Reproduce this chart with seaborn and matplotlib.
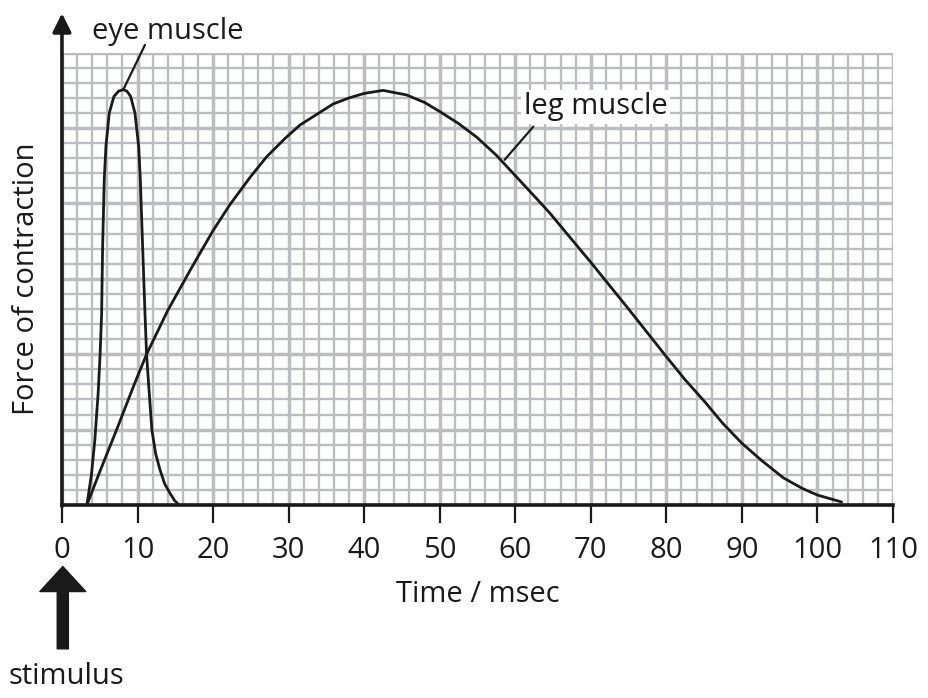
import numpy as np
import pandas as pd
import matplotlib
matplotlib.use("Agg")
import matplotlib.pyplot as plt
from matplotlib.ticker import MultipleLocator
import seaborn as sns

# values (time in msec, force in grid units)
eye_time = [3.3, 3.9, 4.35, 4.8, 5.05, 5.25, 5.38, 5.6, 5.82, 6.26, 6.88, 7.5, 8.1,
            8.6, 9.09, 9.66, 10.15, 10.37, 10.68, 10.99, 11.2, 11.43, 11.9, 12.4,
            13.0, 13.6, 14.3, 14.9, 15.4]
eye_force = [0.0, 2.0, 4.3, 7.5, 10.0, 12.7, 17.1, 21.6, 23.8, 26.0, 27.1, 27.45, 27.55,
             27.45, 27.1, 26.0, 23.8, 21.6, 17.1, 12.7, 10.0, 8.3, 5.0, 3.4,
             2.3, 1.4, 0.78, 0.3, 0.05]

leg_time = [3.3, 5, 7.24, 9.57, 11.2, 14, 17, 20, 22.2, 25, 27.1, 29.5, 31.5, 33.7,
            35.9, 38, 40, 42.5, 45.6, 48, 50, 52.5, 54.9, 57.5, 60, 62.5, 64.6, 67.5,
            70, 75, 80, 82.5, 85, 87.5, 90, 92.5, 95.5, 98, 100, 103.2]
leg_force = [0.0, 2.2, 5.0, 8.0, 10.0, 12.9, 15.6, 18.2, 19.9, 21.8, 23.1, 24.3, 25.2, 25.9,
             26.6, 27.0, 27.3, 27.5, 27.2, 26.7, 26.1, 25.3, 24.4, 23.2, 21.85, 20.5, 19.35, 17.6,
             16.1, 13.0, 9.84, 8.3, 6.9, 5.4, 4.1, 3.0, 1.8, 1.1, 0.66, 0.2]

x_ticks = [0, 10, 20, 30, 40, 50, 60, 70, 80, 90, 100, 110]

eye = pd.DataFrame({"time": eye_time, "force": eye_force})
leg = pd.DataFrame({"time": leg_time, "force": leg_force})

sns.set_style("white")
plt.rcParams["font.family"] = ["Open Sans", "DejaVu Sans"]
ink = "#1a1a1a"
fs = 21

fig = plt.figure(figsize=(9.29, 6.98), dpi=100)
ax = fig.add_axes([0.0667, 0.2765, 0.8945, 0.648])

grid_col = "#bcbdc0"
ax.set_xlim(0, 110)
ax.set_ylim(0, 30)
ax.xaxis.set_major_locator(MultipleLocator(10))
ax.xaxis.set_minor_locator(MultipleLocator(2))
ax.yaxis.set_major_locator(MultipleLocator(5))
ax.yaxis.set_minor_locator(MultipleLocator(1))
ax.grid(which="major", color=grid_col, lw=2.5, zorder=0)
ax.grid(which="minor", color=grid_col, lw=1.7, zorder=0)
ax.set_axisbelow(True)

sns.lineplot(data=eye, x="time", y="force", ax=ax, color=ink, lw=2.0, zorder=3)
sns.lineplot(data=leg, x="time", y="force", ax=ax, color=ink, lw=2.0, zorder=3)

for s in ["top", "right", "left"]:
    ax.spines[s].set_visible(False)
ax.spines["bottom"].set_color(ink)
ax.spines["bottom"].set_linewidth(2.6)
ax.spines["bottom"].set_zorder(4)

ax.set_xticks(x_ticks)
ax.set_xticklabels([str(t) for t in x_ticks], fontsize=fs, color=ink)
ax.tick_params(axis="x", which="major", direction="out", length=13, width=1.6,
               color=ink, pad=9, bottom=True)
ax.tick_params(axis="x", which="minor", length=0)
ax.tick_params(axis="y", which="both", left=False, labelleft=False)
ax.set_xlabel("Time / msec", fontsize=fs, color=ink, labelpad=11)
ax.set_ylabel("")

# y axis with arrow head
ax.annotate("", xy=(0, 1.087), xytext=(0, -0.003), xycoords="axes fraction",
            arrowprops=dict(arrowstyle="-|>", lw=2.6, color=ink,
                            mutation_scale=28, shrinkA=0, shrinkB=0),
            annotation_clip=False, zorder=5)

fig.text(26.7 / 929, 0.6003, "Force of contraction", rotation=90, ha="center",
         va="center", fontsize=fs, color=ink)

# curve labels
ax.plot([8.11, 10.99], [27.54, 30.52], color=ink, lw=1.6, clip_on=False, zorder=3)
ax.text(13.96, 31.4, "eye muscle", ha="center", va="center", fontsize=fs,
        color=ink, clip_on=False)
ax.plot([58.6, 62.4], [22.9, 25.1], color=ink, lw=1.6, zorder=3)
ax.text(70.65, 26.4, "leg muscle", ha="center", va="center", fontsize=fs,
        color=ink, zorder=4,
        bbox=dict(facecolor="white", edgecolor="none", pad=2))

# stimulus arrow
ax.annotate("", xy=(0.001, -0.136), xytext=(0.001, -0.318), xycoords="axes fraction",
            arrowprops=dict(width=8, headwidth=33, headlength=18, facecolor=ink,
                            edgecolor=ink, shrink=0),
            annotation_clip=False)
fig.text(66 / 929, 1 - 677 / 698, "stimulus", ha="center", va="center", fontsize=fs,
         color=ink)

fig.savefig("out.png", dpi=100)
